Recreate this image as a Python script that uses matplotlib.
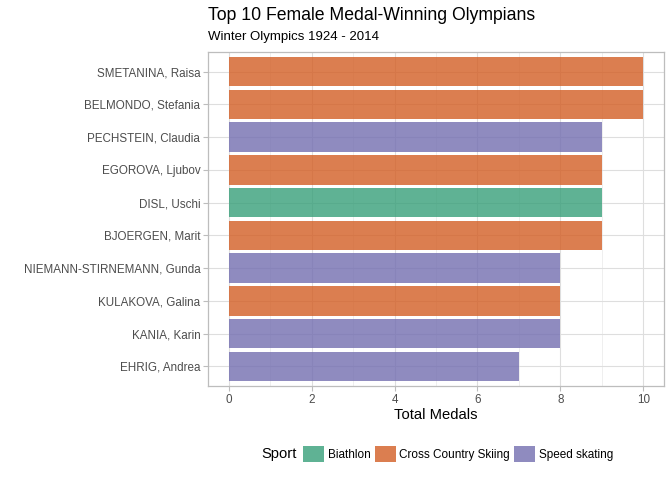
import matplotlib
matplotlib.use("Agg")
import matplotlib.pyplot as plt
from matplotlib.patches import Patch
from matplotlib.ticker import MultipleLocator

names = ["SMETANINA, Raisa", "BELMONDO, Stefania", "PECHSTEIN, Claudia",
         "EGOROVA, Ljubov", "DISL, Uschi", "BJOERGEN, Marit",
         "NIEMANN-STIRNEMANN, Gunda", "KULAKOVA, Galina", "KANIA, Karin",
         "EHRIG, Andrea"]
medals = [10, 10, 9, 9, 9, 9, 8, 8, 8, 7]
sports = ["Cross Country Skiing", "Cross Country Skiing", "Speed skating",
          "Cross Country Skiing", "Biathlon", "Cross Country Skiing",
          "Speed skating", "Cross Country Skiing", "Speed skating",
          "Speed skating"]
sport_levels = ["Biathlon", "Cross Country Skiing", "Speed skating"]
colors = {"Biathlon": "#379F79", "Cross Country Skiing": "#D35E24",
          "Speed skating": "#736EB0"}
ALPHA = 0.8

plt.rcParams['font.family'] = ['Liberation Sans', 'DejaVu Sans']

W, H = 672, 480
fig = plt.figure(figsize=(W / 100, H / 100), dpi=100)
ax = fig.add_axes([208 / W, (H - 386) / H, (664 - 208) / W, (386 - 52) / H])

n = len(names)
ypos = list(range(n, 0, -1))
ax.barh(ypos, medals, height=0.9, color=[colors[s] for s in sports],
        alpha=ALPHA, linewidth=0, zorder=2)

ax.set_xlim(-0.5, 10.5)
ax.set_ylim(0.4, n + 0.6)
ax.set_yticks(ypos)
ax.set_yticklabels(names)
ax.xaxis.set_major_locator(MultipleLocator(2))
ax.xaxis.set_minor_locator(MultipleLocator(1))
ax.set_axisbelow(True)
ax.grid(which='major', color='#DEDEDE', linewidth=0.8, zorder=0)
ax.grid(which='minor', axis='x', color='#E6E6E6', linewidth=0.45, zorder=0)
ax.tick_params(which='minor', length=0)
ax.tick_params(which='major', length=3.5, color='#BDBDBD', width=0.8,
               labelsize=8.35, labelcolor='#4D4D4D', pad=2)
for sp in ax.spines.values():
    sp.set_color('#BDBDBD')
    sp.set_linewidth(0.9)

ax.set_xlabel("Total Medals", fontsize=10.6, color='black', labelpad=2)

fig.text(208 / W, 1 - 15 / H, "Top 10 Female Medal-Winning Olympians",
         fontsize=12.7, ha='left', va='center')
fig.text(208 / W, 1 - 37 / H, "Winter Olympics 1924 - 2014",
         fontsize=9.5, ha='left', va='center')

handles = [Patch(facecolor=colors[s], alpha=ALPHA, linewidth=0) for s in sport_levels]
fig.text(261 / W, 1 - 454 / H, "Sport", fontsize=10.6, ha='left', va='center')
leg = fig.legend(handles, sport_levels, loc='center left',
                 bbox_to_anchor=(303 / W, 1 - 454 / H), ncol=3, frameon=False,
                 fontsize=8.45, handlelength=1.8, handleheight=1.8,
                 handletextpad=0.3, columnspacing=0.35, borderpad=0,
                 borderaxespad=0)

fig.savefig("out.png", dpi=100)
